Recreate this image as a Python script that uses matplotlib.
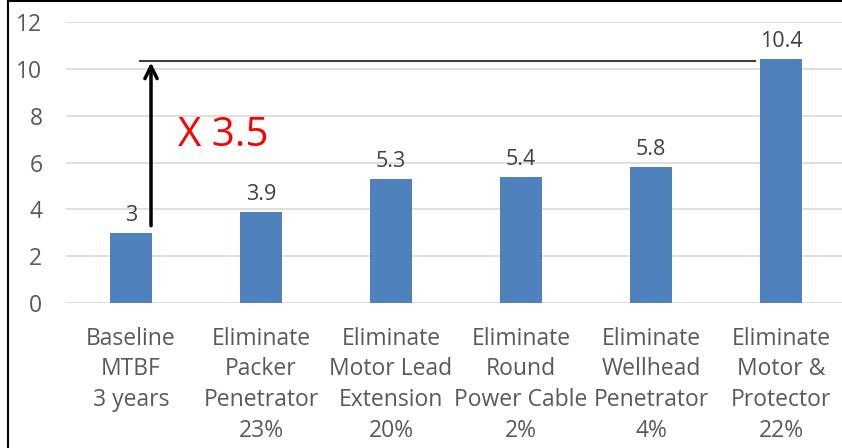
import numpy as np
import matplotlib.pyplot as plt

# values
categories = ['Baseline\nMTBF\n3 years',
              'Eliminate\nPacker\nPenetrator\n23%',
              'Eliminate\nMotor Lead\nExtension\n20%',
              'Eliminate\nRound\nPower Cable\n2%',
              'Eliminate\nWellhead\nPenetrator\n4%',
              'Eliminate\nMotor &\nProtector\n22%']
mtbf = [3, 3.9, 5.3, 5.4, 5.8, 10.4]
labels = ['3', '3.9', '5.3', '5.4', '5.8', '10.4']
yticks = [0, 2, 4, 6, 8, 10, 12]

plt.rcParams['font.family'] = ['Open Sans', 'DejaVu Sans']

fig = plt.figure(figsize=(8.42, 4.48), dpi=100)
ax = fig.add_axes([66/842, 145/448, 780/842, 281/448])

x = np.arange(len(mtbf))
ax.bar(x, mtbf, width=0.32, color='#4F81BD', zorder=3)

for xi, v, t in zip(x, mtbf, labels):
    ax.text(xi, v + 0.3, t, ha='center', va='bottom', fontsize=15.5, color='#404040')

ax.set_xlim(-0.5, len(mtbf) - 0.5)
ax.set_ylim(0, 12)
ax.set_yticks(yticks)
ax.set_xticks(x)
ax.set_xticklabels(categories, linespacing=1.38)
ax.tick_params(axis='both', length=0, labelsize=16.5, colors='#595959')
ax.tick_params(axis='x', pad=17)
ax.tick_params(axis='y', pad=17)
ax.grid(axis='y', color='#D9D9D9', linewidth=1.2, zorder=0)
for s in ax.spines.values():
    s.set_visible(False)

# comparison line and arrow
top = 10.32
ax.plot([0.07, 4.8], [top, top], color='#404040', linewidth=1.5, zorder=4)
ax.annotate('', xy=(0.154, top - 0.05), xytext=(0.154, 3.3),
            arrowprops=dict(arrowstyle='->', color='black', lw=2.5,
                            mutation_scale=22, shrinkA=0, shrinkB=0), zorder=5)
ax.text(0.36, 7.15, 'X 3.5', color='#FF0000', fontsize=29, ha='left', va='center')

# outer frame (left and top edges visible)
fig.add_artist(plt.Line2D([7.5/842, 7.5/842], [0, 1 - 1/448], color='black', lw=1.5))
fig.add_artist(plt.Line2D([7.5/842, 1], [1 - 1/448, 1 - 1/448], color='black', lw=1.5))

fig.savefig('out.png', dpi=100)
